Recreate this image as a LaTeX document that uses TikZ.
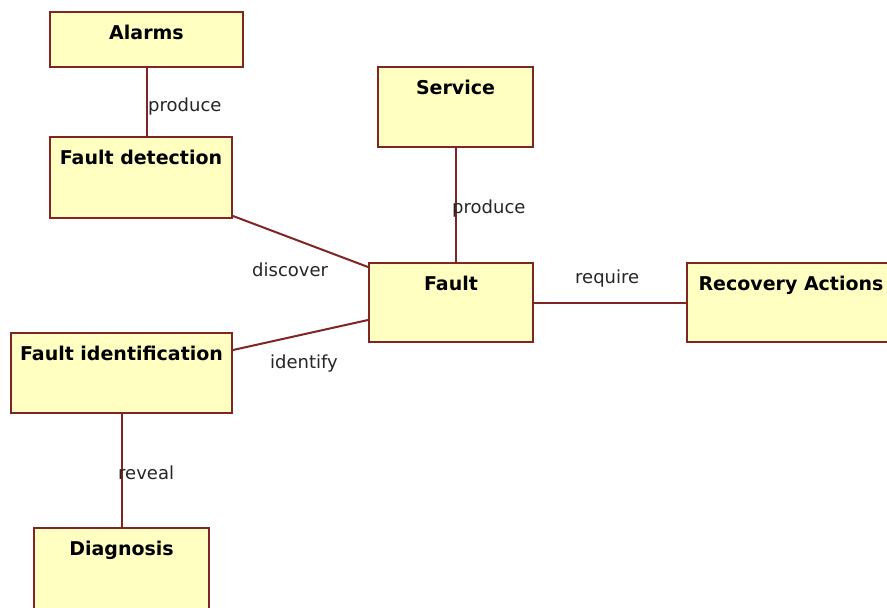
\documentclass[tikz,border=0pt]{standalone}
\usepackage{fontspec}
\setmainfont{DejaVu Sans}
\begin{document}
\begin{tikzpicture}[x=1pt,y=-1pt,
  edgecol/.style={draw=boxline, line width=2pt},
  umlbox/.style={draw=boxline, fill=boxfill, line width=2pt, rectangle, inner sep=0pt},
  ttl/.style={font=\bfseries\fontsize{19}{19}\selectfont, inner sep=0pt, anchor=base},
  lbl/.style={font=\fontsize{18}{18}\selectfont, text=black!85, inner sep=0pt, anchor=base west}]
\definecolor{boxline}{RGB}{128,36,36}
\definecolor{boxfill}{RGB}{255,255,194}
\useasboundingbox (0,0) rectangle (887,608);
\clip (0,0) rectangle (887,608);
\fill[white] (0,0) rectangle (887,608);
% boxes
\node[umlbox, minimum width=193pt, minimum height=55pt] (alarms) at (146.5,39.5) {};
\node[umlbox, minimum width=182pt, minimum height=81pt] (fdet) at (141,177.5) {};
\node[umlbox, minimum width=155pt, minimum height=80pt] (service) at (455.5,107) {};
\node[umlbox, minimum width=164pt, minimum height=79pt] (fault) at (451,302.5) {};
\node[umlbox, minimum width=208pt, minimum height=79pt] (recov) at (791,302.5) {};
\node[umlbox, minimum width=221pt, minimum height=80pt] (fid) at (121.5,373) {};
\node[umlbox, minimum width=175pt, minimum height=87pt] (diag) at (121.5,571.5) {};
% titles
\node[ttl] (t-alarms) at ([yshift=-28pt]alarms.north) {Alarms};
\node[ttl] (t-fdet) at ([yshift=-28pt]fdet.north) {Fault detection};
\node[ttl] (t-service) at ([yshift=-28pt]service.north) {Service};
\node[ttl] (t-fault) at ([yshift=-28pt]fault.north) {Fault};
\node[ttl] (t-recov) at ([yshift=-28pt]recov.north) {Recovery Actions};
\node[ttl] (t-fid) at ([yshift=-28pt]fid.north) {Fault identification};
\node[ttl] (t-diag) at ([yshift=-28pt]diag.north) {Diagnosis};
% connectors
\draw[edgecol] (alarms.south) -- (alarms.south |- fdet.north);
\draw[edgecol] (service.south) -- (service.south |- fault.north);
\draw[edgecol] (fault.east) -- (recov.west);
\draw[edgecol] (fid.south) -- (diag.north);
\draw[edgecol] ([yshift=3pt]fdet.south east) -- ([yshift=-5pt]fault.north west);
\draw[edgecol] ([yshift=-18pt]fid.north east) -- ([yshift=-58pt]fault.north west);
% labels
\node[lbl] (l-produce1) at (148,111) {produce};
\node[lbl] (l-produce2) at (452,213) {produce};
\node[lbl] (l-discover) at (252,276) {discover};
\node[lbl] (l-identify) at (270,368) {identify};
\node[lbl] (l-require) at (575,283) {require};
\node[lbl] (l-reveal) at (118,479) {reveal};
\end{tikzpicture}
\end{document}
